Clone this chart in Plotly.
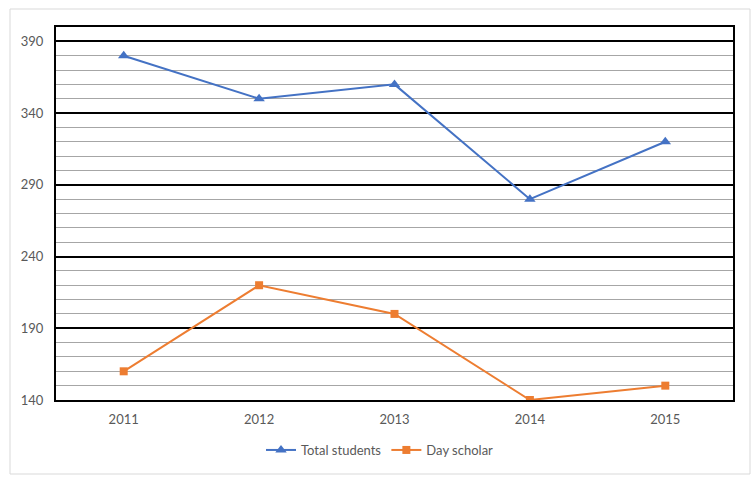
import plotly.graph_objects as go

years = ["2011", "2012", "2013", "2014", "2015"]
total_students = [380, 350, 360, 280, 320]
day_scholar = [160, 220, 200, 140, 150]
major_ticks = [140, 190, 240, 290, 340, 390]
minor_ticks = [v for v in range(150, 400, 10) if v not in major_ticks]

fig = go.Figure()
fig.add_trace(go.Scatter(
    x=years, y=total_students, name="Total students", mode="lines+markers",
    line=dict(color="#4472C4", width=2),
    marker=dict(symbol="triangle-up", size=10, color="#4472C4"),
))
fig.add_trace(go.Scatter(
    x=years, y=day_scholar, name="Day scholar", mode="lines+markers",
    line=dict(color="#ED7D31", width=2),
    marker=dict(symbol="square", size=8, color="#ED7D31"),
))

L, R, T, B = 56, 22, 27, 82
W, H = 755, 482
pw, ph = W - L - R, H - T - B

def px_x(x):
    return (x - L) / pw

def px_y(y):
    return (H - B - y) / ph

fig.update_layout(
    width=W, height=H,
    margin=dict(l=L, r=R, t=T, b=B),
    paper_bgcolor="white", plot_bgcolor="white",
    font=dict(family="Lato, Open Sans, sans-serif", size=13, color="#595959"),
    showlegend=True,
    legend=dict(orientation="h", x=px_x(380), y=px_y(450), xanchor="center", yanchor="middle",
                font=dict(size=13, color="#595959"), itemwidth=30),
    xaxis=dict(
        type="category", range=[-0.5, 4.5], showgrid=False, showline=True, mirror=True,
        linecolor="black", linewidth=2, ticks="", zeroline=False,
        tickfont=dict(size=13, color="#595959"), ticklabelstandoff=6,
    ),
    yaxis=dict(
        range=[140, 400], tickmode="array", tickvals=major_ticks, showgrid=True,
        gridcolor="black", gridwidth=2, showline=True, mirror=True,
        linecolor="black", linewidth=2, zeroline=False, ticks="",
        tickfont=dict(size=13, color="#595959"), ticklabelstandoff=8,
        minor=dict(tickmode="array", tickvals=minor_ticks, showgrid=True,
                   gridcolor="#A6A6A6", gridwidth=1, ticks=""),
    ),
    shapes=[dict(
        type="rect", xref="paper", yref="paper",
        x0=px_x(10), x1=px_x(750), y0=px_y(474), y1=px_y(9),
        line=dict(color="#D9D9D9", width=1), fillcolor="rgba(0,0,0,0)", layer="below",
    )],
)

fig.write_html("out.html")
